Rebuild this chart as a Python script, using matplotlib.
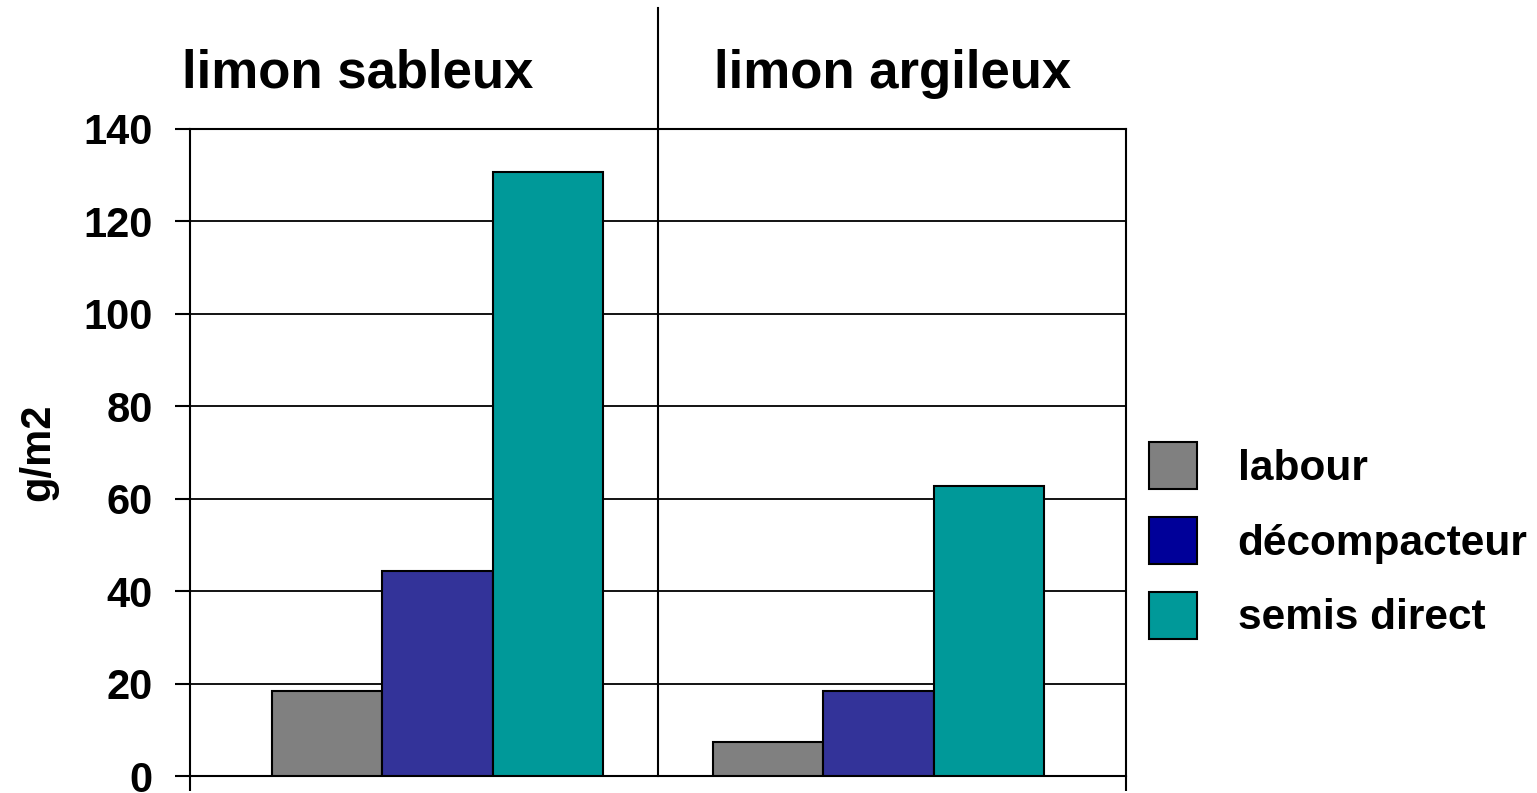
import numpy as np
import matplotlib.pyplot as plt
from matplotlib.patches import Patch

# sols et itinéraires techniques
sols = ["limon sableux", "limon argileux"]
travail_sol = ["labour", "décompacteur", "semis direct"]
labour = [18.5, 7.3]
decompacteur = [44.4, 18.5]
semis_direct = [130.8, 62.8]
valeurs = [labour, decompacteur, semis_direct]

couleurs_barres = ["#808080", "#333399", "#009999"]
couleurs_legende = ["#808080", "#000099", "#009999"]
yticks = np.arange(0, 141, 20)

plt.rcParams['font.family'] = ['Liberation Sans', 'DejaVu Sans']
plt.rcParams['font.weight'] = 'bold'

fig = plt.figure(figsize=(15.37, 7.93), dpi=100)
ax = fig.add_axes([190 / 1537, 17 / 793, 936 / 1537, 647 / 793])

x = np.arange(len(sols))
largeur = 0.25
for i, (serie, coul) in enumerate(zip(valeurs, couleurs_barres)):
    ax.bar(x + (i - 1) * largeur, serie, width=largeur, color=coul,
           edgecolor='black', linewidth=1.5, zorder=3)

ax.set_xlim(-0.561, 1.561)
ax.set_ylim(0, 140)
ax.set_yticks(yticks)
ax.set_yticklabels([str(v) for v in yticks], fontsize=30, fontweight='bold')
ax.tick_params(axis='y', direction='out', length=11, width=1.5, pad=16)
ax.set_xticks(ax.get_xlim())
ax.set_xticklabels([])
ax.tick_params(axis='x', direction='out', length=11, width=1.5)
ax.grid(axis='y', color='black', linewidth=1.3, zorder=0)
for s in ax.spines.values():
    s.set_linewidth(1.5)

# séparation entre les deux sols, prolongée au-dessus du graphique
ax.plot([0.5, 0.5], [0, 1.187], color='black', linewidth=1.5,
        transform=ax.get_xaxis_transform(), clip_on=False, zorder=4)

ax.set_ylabel("g/m2", fontsize=30, fontweight='bold', va='center')
ax.yaxis.set_label_coords(-0.162, 0.5)

fig.text(358 / 1537, 1 - 88 / 793, sols[0], fontsize=38, fontweight='bold',
         ha='center', va='baseline')
fig.text(893 / 1537, 1 - 88 / 793, sols[1], fontsize=38, fontweight='bold',
         ha='center', va='baseline')

poignees = [Patch(facecolor=c, edgecolor='black', linewidth=1.5)
            for c in couleurs_legende]
fig.legend(poignees, travail_sol, loc='upper left',
           bbox_to_anchor=(1149 / 1537, 1 - 442 / 793), frameon=False,
           prop={'size': 30.5, 'weight': 'bold'}, borderpad=0, borderaxespad=0,
           handlelength=1.13, handleheight=1.34, handletextpad=0.96,
           labelspacing=0.65)

fig.savefig("out.png", dpi=100)
